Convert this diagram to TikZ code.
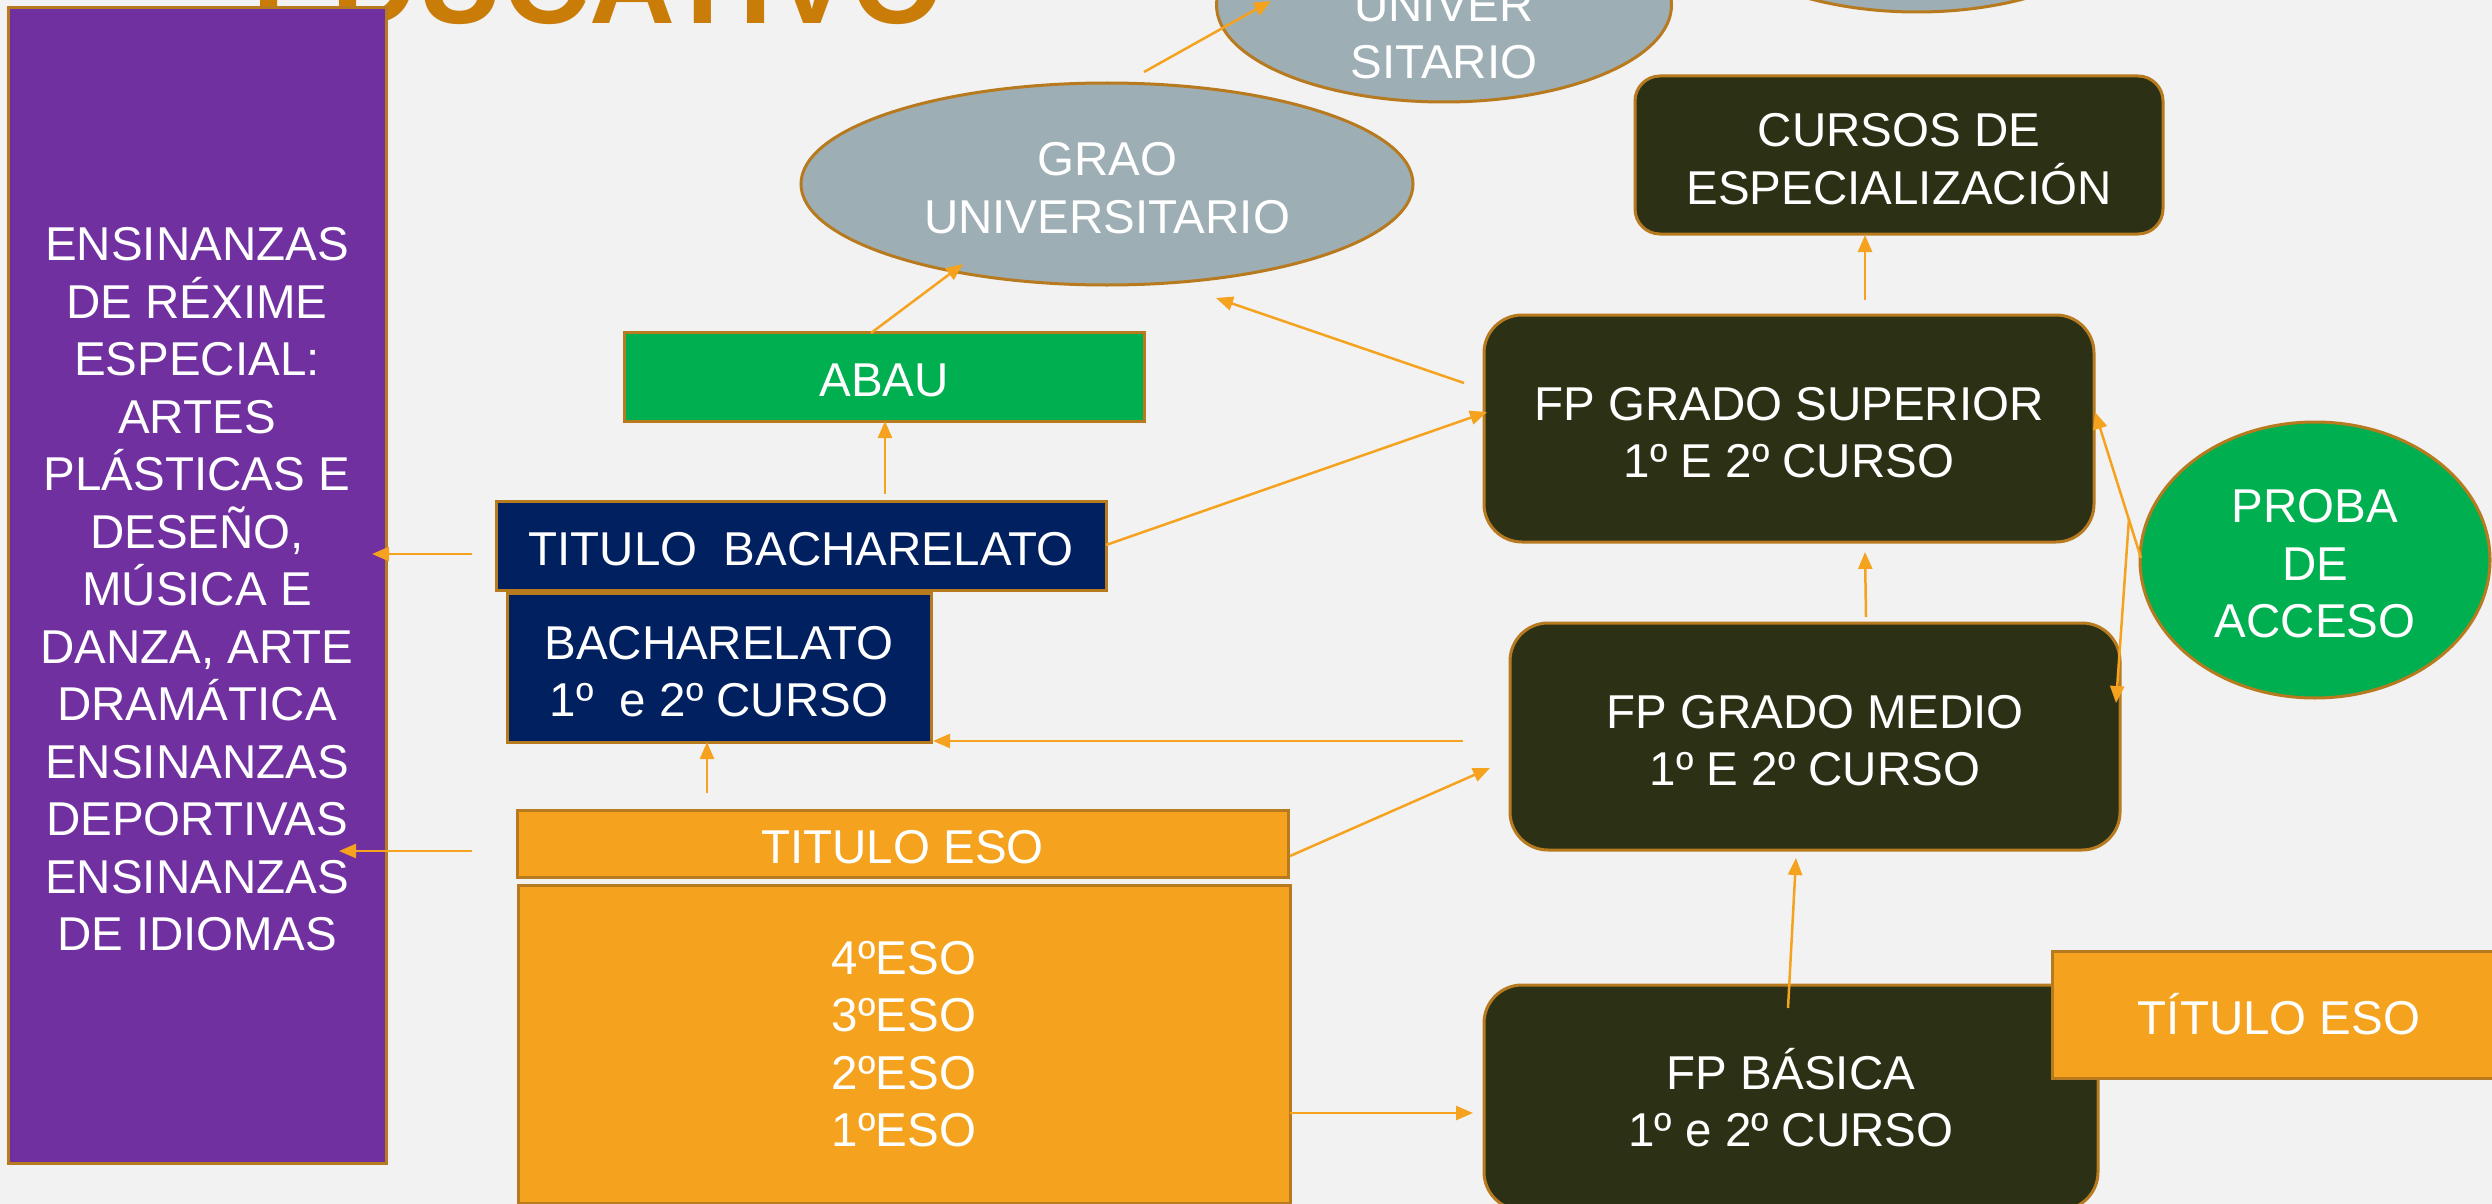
\documentclass[tikz,border=0pt]{standalone}
\usepackage{fontspec}
\setmainfont{Liberation Sans}
\usetikzlibrary{arrows.meta,shapes.geometric}
\definecolor{bg}{HTML}{F2F2F2}
\definecolor{bordc}{HTML}{B87A1E}
\definecolor{purp}{HTML}{7030A0}
\definecolor{grayb}{HTML}{9DAEB4}
\definecolor{darkol}{HTML}{2C3116}
\definecolor{greenb}{HTML}{00B050}
\definecolor{navyb}{HTML}{002060}
\definecolor{orab}{HTML}{F5A31F}
\definecolor{arrc}{HTML}{F5A31F}
\definecolor{titc}{HTML}{C97D08}
\newcommand{\fstrut}{\rule{0pt}{0.87em}}
\begin{document}
\begin{tikzpicture}[x=1pt,y=-1pt,
  box/.style={draw=bordc, line width=3pt, inner sep=0pt, text=white, align=center,
    font=\fontsize{47.5}{57.5}\selectfont},
  rbox/.style={box, rounded corners=38pt},
  ell/.style={box, ellipse},
  lbl/.style={text=white, align=center, inner sep=0pt, font=\fontsize{47.5}{57.5}\selectfont},
  arr/.style={draw=arrc, line width=2.5pt, -{Triangle[length=17pt,width=14pt]}}]
\useasboundingbox (0,0) rectangle (2492,1204);
\clip (0,0) rectangle (2492,1204);
\fill[bg] (0,0) rectangle (2492,1204);

% title (cut off at top)
\node[anchor=base west, inner sep=0pt, text=titc, font=\fontsize{119}{122}\bfseries\selectfont] (title) at (252,24) {EDUCATIVO};

% upper ellipses
\node[ell, fill=grayb, minimum width=454pt, minimum height=224pt] (topr) at (1917,-100) {};
\node[ell, fill=grayb, minimum width=455pt, minimum height=194pt] (master) at (1444,5) {};
\node[lbl] (mastertxt) at (1444,34) {UNIVER\\SITARIO};
\node[ell, fill=grayb, minimum width=612pt, minimum height=202pt] (grao) at (1107,184) {\fstrut GRAO\\UNIVERSITARIO};

% left column
\node[box, fill=purp, minimum width=378pt, minimum height=1155pt] (rexime) at (197,585.5)
  {\fstrut ENSINANZAS\\DE RÉXIME\\ESPECIAL:\\ARTES\\PLÁSTICAS E\\DESEÑO,\\MÚSICA E\\DANZA, ARTE\\DRAMÁTICA\\ENSINANZAS\\DEPORTIVAS\\ENSINANZAS\\DE IDIOMAS};

\node[box, fill=greenb, minimum width=520pt, minimum height=89pt] (abau) at (884,376.5) {\fstrut ABAU};
\node[box, fill=navyb, minimum width=610pt, minimum height=89pt] (tbach) at (801,545.5) {\fstrut TITULO~ BACHARELATO};
\node[box, fill=navyb, minimum width=424pt, minimum height=149pt] (bach) at (719,667.5) {\fstrut BACHARELATO\\1º~ e 2º CURSO};
\node[box, fill=orab, minimum width=771pt, minimum height=67pt] (teso) at (902.5,843.5) {\fstrut TITULO ESO};
\node[box, fill=orab, minimum width=772pt, minimum height=318pt] (eso) at (904,1044) {4ºESO\\3ºESO\\2ºESO\\1ºESO};

% right column
\node[box, fill=darkol, rounded corners=25pt, minimum width=528pt, minimum height=158pt] (cursos) at (1899,155) {\fstrut CURSOS DE\\ESPECIALIZACIÓN};
\node[rbox, fill=darkol, minimum width=610pt, minimum height=227pt] (fpsup) at (1789,428.5) {\fstrut FP GRADO SUPERIOR\\1º E 2º CURSO};
\node[rbox, fill=darkol, minimum width=610pt, minimum height=227pt] (fpmed) at (1815,736.5) {\fstrut FP GRADO MEDIO\\1º E 2º CURSO};
\node[rbox, fill=darkol, minimum width=614pt, minimum height=225pt] (fpbas) at (1791,1097.5) {FP BÁSICA\\1º e 2º CURSO};
\node[box, fill=orab, minimum width=454pt, minimum height=127pt] (teso2) at (2279,1014.5) {TÍTULO ESO};
\node[ell, fill=greenb, minimum width=350pt, minimum height=276pt] (proba) at (2315,560) {\fstrut PROBA\\DE\\ACCESO};

% connector end points
\coordinate (a1) at (472,554);   \coordinate (a2) at (372,554);
\coordinate (b1) at (472,851);   \coordinate (b2) at (339,851);
\coordinate (c1) at (885,494);   \coordinate (c2) at (885,421);
\coordinate (d1) at (871,333);   \coordinate (d2) at (963,264);
\coordinate (e1) at (1144,72);   \coordinate (e2) at (1271,1);
\coordinate (f1) at (1464,383);  \coordinate (f2) at (1216,298);
\coordinate (g1) at (1106,545);  \coordinate (g2) at (1487,412);
\coordinate (h1) at (1865,300);  \coordinate (h2) at (1865,235);
\coordinate (i1) at (1866,617);  \coordinate (i2) at (1865,552);
\coordinate (j1) at (1463,741);  \coordinate (j2) at (933,741);
\coordinate (k1) at (1290,856);  \coordinate (k2) at (1490,768);
\coordinate (l1) at (1290,1113); \coordinate (l2) at (1473,1113);
\coordinate (m1) at (1788,1008); \coordinate (m2) at (1796,858);
\coordinate (n1) at (707,793);   \coordinate (n2) at (707,742);
\coordinate (o1) at (2141,558);  \coordinate (o2) at (2095,412);
\coordinate (p1) at (2129,518);  \coordinate (p2) at (2116,703);

\draw[arr] (a1) -- (a2);
\draw[arr] (b1) -- (b2);
\draw[arr] (c1) -- (c2);
\draw[arr] (d1) -- (d2);
\draw[arr] (e1) -- (e2);
\draw[arr] (f1) -- (f2);
\draw[arr] (g1) -- (g2);
\draw[arr] (h1) -- (h2);
\draw[arr] (i1) -- (i2);
\draw[arr] (j1) -- (j2);
\draw[arr] (k1) -- (k2);
\draw[arr] (l1) -- (l2);
\draw[arr] (m1) -- (m2);
\draw[arr] (n1) -- (n2);
\draw[arr] (o1) -- (o2);
\draw[arr] (p1) -- (p2);
\end{tikzpicture}
\end{document}
